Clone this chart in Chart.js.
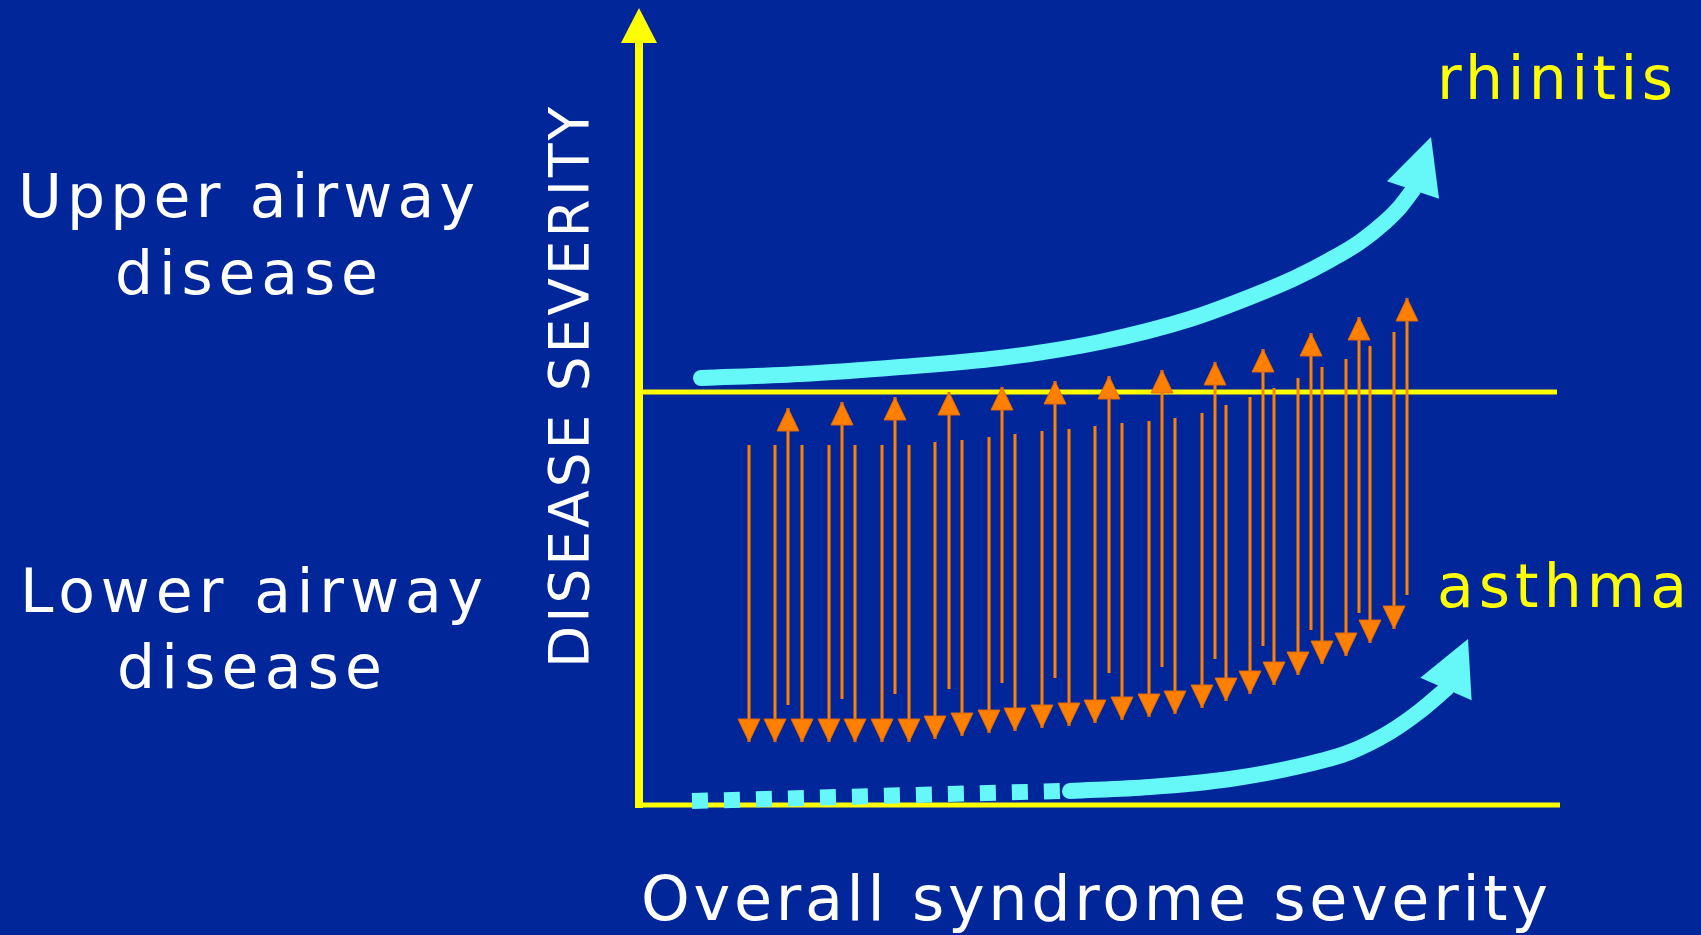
<!DOCTYPE html>
<html>
<head>
<meta charset="utf-8">
<script src="https://cdn.jsdelivr.net/npm/chart.js@4.4.0/dist/chart.umd.min.js"></script>
<style>
  html, body { margin: 0; padding: 0; background: #002699; overflow: hidden; }
  #wrap { width: 1701px; height: 935px; }
</style>
</head>
<body>
<div id="wrap"><canvas id="diagram" width="1701" height="935"></canvas></div>
<script>
// ===============================
// DATA  (origin = corner of the axes, 1 unit ~ 1 px)
// ===============================
// orange arrows pointing down (start high, end low)
const downX   = [110, 136, 163, 190, 216, 243, 270, 296, 323, 350, 376, 403, 430, 456, 483, 510, 536, 563, 587, 611, 635, 659, 683, 707, 731, 755];
const downTop = [360, 360, 360, 360, 360, 360, 360, 363, 365, 368, 371, 374, 376, 379, 382, 384, 387, 392, 400, 408, 417, 427, 438, 446, 459, 473];
const downTip = [63, 63, 63, 63, 63, 63, 63, 66, 69, 72, 74, 77, 79, 82, 85, 88, 91, 97, 104, 111, 120, 130, 141, 149, 162, 176];

// orange arrows pointing up
const upX      = [149, 203, 256, 310, 363, 416, 470, 523, 576, 624, 672, 720, 768];
const upBottom = [100, 106, 111, 116, 122, 127, 132, 138, 146, 159, 175, 192, 210];
const upTip    = [397, 403, 408, 413, 418, 424, 429, 435, 443, 456, 472, 488, 507];

// rhinitis curve (cyan, upper)
const rhinitisX = [62, 161, 261, 361, 461, 551, 611, 656, 691, 721, 746, 761, 774];
const rhinitisY = [427, 431, 438, 447, 463, 486, 508, 527, 545, 563, 583, 598, 615];
const rhinitisTip = { x: 792, y: 668 };

// asthma curve (cyan, lower): dotted start then solid
const asthmaDashX = [53, 421];
const asthmaDashY = [4, 14];
const asthmaX = [431, 511, 591, 661, 711, 751, 781, 807];
const asthmaY = [14, 18, 26, 39, 53, 73, 94, 116];
const asthmaTip = { x: 829, y: 166 };

// yellow axes + threshold line
const yAxisX = [0, 0], yAxisY = [-3, 762];
const yAxisTip = { x: 0, y: 797 };
const xAxisX = [-4, 921], xAxisY = [0, 0];
const midX = [0, 918], midY = [413, 413];

// ===============================
// STYLE
// ===============================
const YELLOW = '#ffff00';
const CYAN = '#66f8f8';
const ORANGE = '#ff8000';
const ORANGE_EDGE = '#e06800';

const TEXTS = [
    { text: 'Upper airway', x: 18, y: 217, w: 457, size: 60, color: '#ffffff' },
    { text: 'disease', x: 115, y: 294, w: 263, size: 60, color: '#ffffff' },
    { text: 'Lower airway', x: 20, y: 612, w: 463, size: 60, color: '#ffffff' },
    { text: 'disease', x: 117, y: 688, w: 265, size: 60, color: '#ffffff' },
    { text: 'DISEASE SEVERITY', x: 588, y: 668, w: 561, size: 55, color: '#ffffff', rot: -90 },
    { text: 'Overall syndrome severity', x: 641, y: 920, w: 907, size: 62, color: '#ffffff' },
    { text: 'rhinitis', x: 1437, y: 99, w: 236, size: 60, color: YELLOW },
    { text: 'asthma', x: 1437, y: 607, w: 250, size: 60, color: YELLOW }
];

// ===============================
// UTILS
// ===============================
const toPts = (xs, ys) => xs.map((x, i) => ({ x, y: ys[i] }));

const arrowHeads = {
    id: 'arrowHeads',
    afterDatasetDraw(chart, args) {
        const ds = chart.data.datasets[args.index];
        if (!ds.head) return;
        const pts = args.meta.data;
        const last = pts[pts.length - 1];
        let base, tip;
        if (ds.head.tip) {
            base = { x: last.x, y: last.y };
            tip = { x: chart.scales.x.getPixelForValue(ds.head.tip.x), y: chart.scales.y.getPixelForValue(ds.head.tip.y) };
        } else {
            const prev = pts[pts.length - 2];
            const ddx = last.x - prev.x, ddy = last.y - prev.y, dd = Math.hypot(ddx, ddy);
            tip = { x: last.x, y: last.y };
            base = { x: last.x - ddx / dd * ds.head.length, y: last.y - ddy / dd * ds.head.length };
        }
        const dx = tip.x - base.x, dy = tip.y - base.y, d = Math.hypot(dx, dy);
        const nx = -dy / d * ds.head.width / 2, ny = dx / d * ds.head.width / 2;
        const ctx = chart.ctx;
        ctx.save();
        ctx.beginPath();
        ctx.moveTo(tip.x, tip.y);
        ctx.lineTo(base.x + nx, base.y + ny);
        ctx.lineTo(base.x - nx, base.y - ny);
        ctx.closePath();
        ctx.fillStyle = ds.borderColor;
        ctx.fill();
        if (ds.head.edge) {
            ctx.strokeStyle = ds.head.edge;
            ctx.lineWidth = 1;
            ctx.stroke();
        }
        ctx.restore();
    }
};

const labelsPlugin = {
    id: 'labels',
    afterDraw(chart) {
        const ctx = chart.ctx;
        TEXTS.forEach(t => {
            ctx.save();
            ctx.font = t.size + 'px "DejaVu Sans", sans-serif';
            ctx.fillStyle = t.color;
            ctx.textBaseline = 'alphabetic';
            ctx.textAlign = 'left';
            ctx.letterSpacing = '0px';
            const natural = ctx.measureText(t.text).width;
            const gap = (t.w - natural) / (t.text.length - 1);
            ctx.letterSpacing = gap.toFixed(2) + 'px';
            ctx.translate(t.x, t.y);
            if (t.rot) ctx.rotate(t.rot * Math.PI / 180);
            ctx.fillText(t.text, 0, 0);
            ctx.restore();
        });
    }
};

// ===============================
// DATASETS
// ===============================
const datasets = [];

datasets.push({ data: toPts(yAxisX, yAxisY), borderColor: YELLOW, borderWidth: 8, order: 5, head: { tip: yAxisTip, width: 36 } });
datasets.push({ data: toPts(xAxisX, xAxisY), borderColor: YELLOW, borderWidth: 5, order: 5 });
datasets.push({ data: toPts(midX, midY), borderColor: YELLOW, borderWidth: 5, order: 5 });

datasets.push({
    data: toPts(rhinitisX, rhinitisY), borderColor: CYAN, borderWidth: 16, borderCapStyle: 'round',
    cubicInterpolationMode: 'monotone', order: 3, head: { tip: rhinitisTip, width: 55 }
});
datasets.push({
    data: toPts(asthmaDashX, asthmaDashY), borderColor: CYAN, borderWidth: 16, borderCapStyle: 'butt',
    borderDash: [16, 16], order: 3
});
datasets.push({
    data: toPts(asthmaX, asthmaY), borderColor: CYAN, borderWidth: 16, borderCapStyle: 'round',
    cubicInterpolationMode: 'monotone', order: 3, head: { tip: asthmaTip, width: 56 }
});

downX.forEach((x, i) => {
    datasets.push({
        data: [{ x, y: downTop[i] }, { x, y: downTip[i] }], borderColor: ORANGE, borderWidth: 3,
        borderCapStyle: 'butt', order: 1, head: { length: 23, width: 22, edge: ORANGE_EDGE }
    });
});
upX.forEach((x, i) => {
    datasets.push({
        data: [{ x, y: upBottom[i] }, { x, y: upTip[i] }], borderColor: ORANGE, borderWidth: 3,
        borderCapStyle: 'butt', order: 1, head: { length: 23, width: 22, edge: ORANGE_EDGE }
    });
});

datasets.forEach(ds => { ds.showLine = true; ds.pointRadius = 0; ds.fill = false; });

// ===============================
// INIT
// ===============================
new Chart(document.getElementById('diagram').getContext('2d'), {
    type: 'scatter',
    data: { datasets },
    options: {
        responsive: false,
        animation: false,
        events: [],
        layout: { padding: 0 },
        plugins: { legend: { display: false }, tooltip: { enabled: false } },
        scales: {
            x: { type: 'linear', min: -639, max: 1062, display: false },
            y: { type: 'linear', min: -130, max: 805, display: false }
        }
    },
    plugins: [arrowHeads, labelsPlugin]
});
</script>
</body>
</html>
